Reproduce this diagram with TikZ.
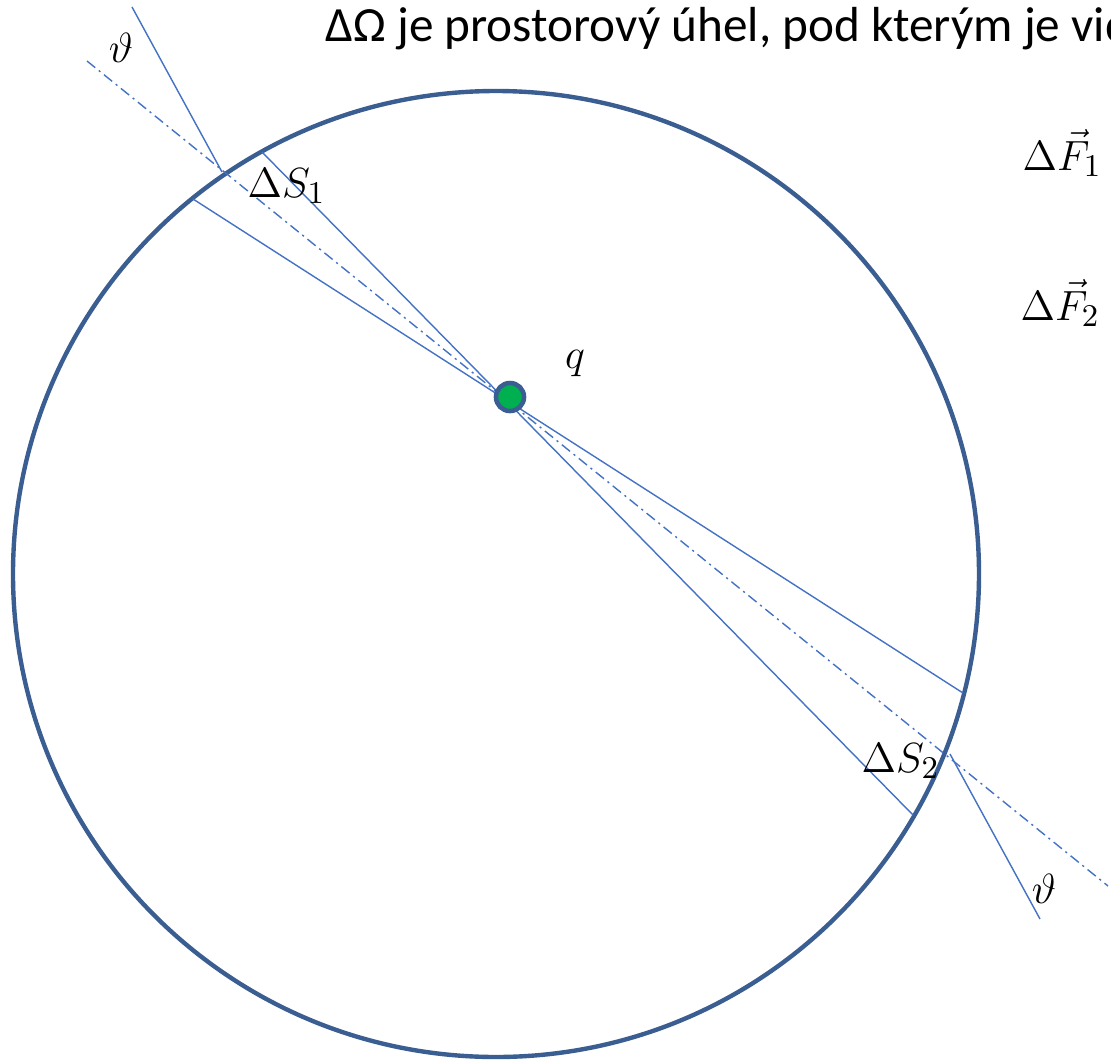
\documentclass[tikz,border=0pt]{standalone}
\usepackage{fontspec}
\setmainfont{Carlito}
\definecolor{rimblue}{RGB}{58,94,145}
\definecolor{rayblue}{RGB}{68,114,196}
\definecolor{chargegreen}{RGB}{0,176,80}

\begin{document}
\begin{tikzpicture}[x=0.01cm,y=-0.01cm,rim/.style={draw=rimblue,line width=1.25pt},ray/.style={draw=rayblue,line width=0.4pt},axis/.style={ray,dash pattern=on 3pt off 1.3pt on 0.6pt off 1.3pt},charge/.style={circle,fill=chargegreen,draw=rimblue,line width=1.3pt,minimum size=0.28cm,inner sep=0pt},lbl/.style={font=\fontsize{13}{15}\selectfont,inner sep=0pt}]
\useasboundingbox (0,0) rectangle (1111,1060);
\clip (0,0) rectangle (1111,1060);
\coordinate (c) at (496,574); \coordinate (q0) at (510,397);
\coordinate (a1) at (193,199); \coordinate (a2) at (963,693);
\coordinate (b1) at (262,152); \coordinate (b2) at (913,815);
\coordinate (d1) at (87,61); \coordinate (d2) at (1108,886);
\coordinate (t1) at (132,7); \coordinate (x1) at (222,172);
\coordinate (t2) at (1040,919); \coordinate (x2) at (950,754);
\draw[rim] (c) circle (483);
\draw[ray] (a1)--(a2); \draw[ray] (b1)--(b2); \draw[axis] (d1)--(d2);
\draw[ray] (t1)--(x1); \draw[ray] (x2)--(t2);
\node[charge] (q) at (q0) {};
\node[lbl,font=\fontsize{14}{16}\selectfont,anchor=base west] (title) at (325,41) {ΔΩ je prostorový úhel, pod kterým je vid};
\node[lbl,anchor=base west] (f1) at (1022,170) {$\Delta\vec{F}_1$};
\node[lbl,anchor=base west] (f2) at (1020,320) {$\Delta\vec{F}_2$};
\node[lbl] (ql) at (575,364) {$q$};
\node[lbl] (th1) at (121,48) {$\vartheta$};
\node[lbl] (th2) at (1044,889) {$\vartheta$};
\node[lbl,anchor=base west] (s1) at (247,197) {$\Delta S_1$};
\node[lbl,anchor=base west] (s2) at (861,772) {$\Delta S_2$};
\end{tikzpicture}
\end{document}
